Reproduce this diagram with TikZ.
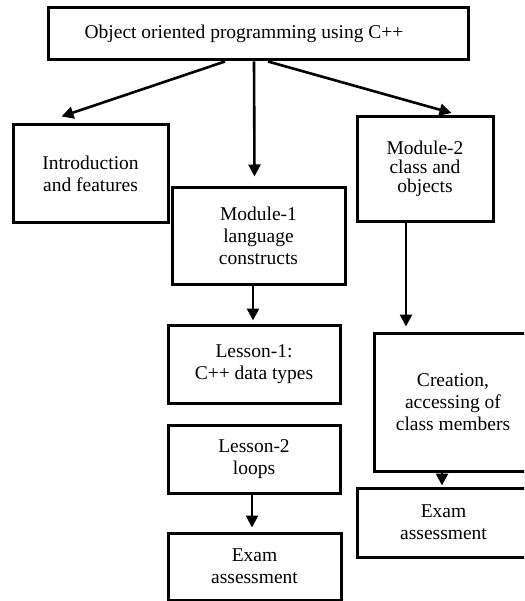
\documentclass[tikz,border=0pt]{standalone}
\usepackage{fontspec}
\setmainfont{Liberation Serif}
\usetikzlibrary{arrows.meta,calc}
\begin{document}
\begin{tikzpicture}[x=1pt,y=-1pt,
  box/.style={draw=black,line width=3pt,rectangle,align=center,inner sep=0pt,
    font=\fontsize{19.5}{22}\selectfont},
  arr/.style={line width=2.6pt,-{Triangle[length=12pt,width=12pt]}}]
\useasboundingbox (0,0) rectangle (524,601);
\fill[white] (0,0) rectangle (524,601);
\clip (0,0) rectangle (524,601);
\node[box,minimum width=420,minimum height=52] (top) at (258,34) {Object oriented programming using C++\hspace*{28pt}};
\node[box,minimum width=155,minimum height=98] (intro) at (90.5,174) {Introduction\\and features};
\node[box,minimum width=173,minimum height=96] (mod1) at (258.5,236) {Module-1\\language\\constructs};
\node[box,minimum width=136,minimum height=105,font=\fontsize{19.5}{19}\selectfont] (mod2) at (425,169) {Module-2\\class and\\objects};
\node[box,minimum width=172,minimum height=78] (les1) at (254,364) {Lesson-1:\\C++ data types};
\node[box,minimum width=172,minimum height=68] (les2) at (254,459) {Lesson-2\\loops};
\node[box,minimum width=173,minimum height=67] (exam1) at (254.5,566.5) {Exam\\assessment};
\node[box,minimum width=158,minimum height=138] (creat) at (453,402) {Creation,\\accessing of\\class members};
\node[box,minimum width=173,minimum height=69] (exam2) at (443.5,522.5) {Exam\\assessment};
\draw[arr] ($(top.south)+(-33,0)$) -- ($(intro.north west)+(50,-7)$);
\draw[arr] ($(top.south)+(-4,0)$) -- ($(mod1.north)+(-4,-10)$);
\draw[arr] ($(top.south)+(10,0)$) -- ($(mod2.north west)+(96,-2)$);
\draw[arr] (mod1.south -| 253,0) -- ($(les1.north -| 253,0)+(0,-3)$);
\draw[arr] (mod2.south -| 406,0) -- ($(creat.north -| 406,0)+(0,-5)$);
\draw[arr] (les2.south -| 252,0) -- ($(exam1.north -| 252,0)+(0,-4)$);
\draw[arr] (creat.south -| 442,0) -- ($(exam2.north -| 442,0)+(0,-1)$);
\end{tikzpicture}
\end{document}
